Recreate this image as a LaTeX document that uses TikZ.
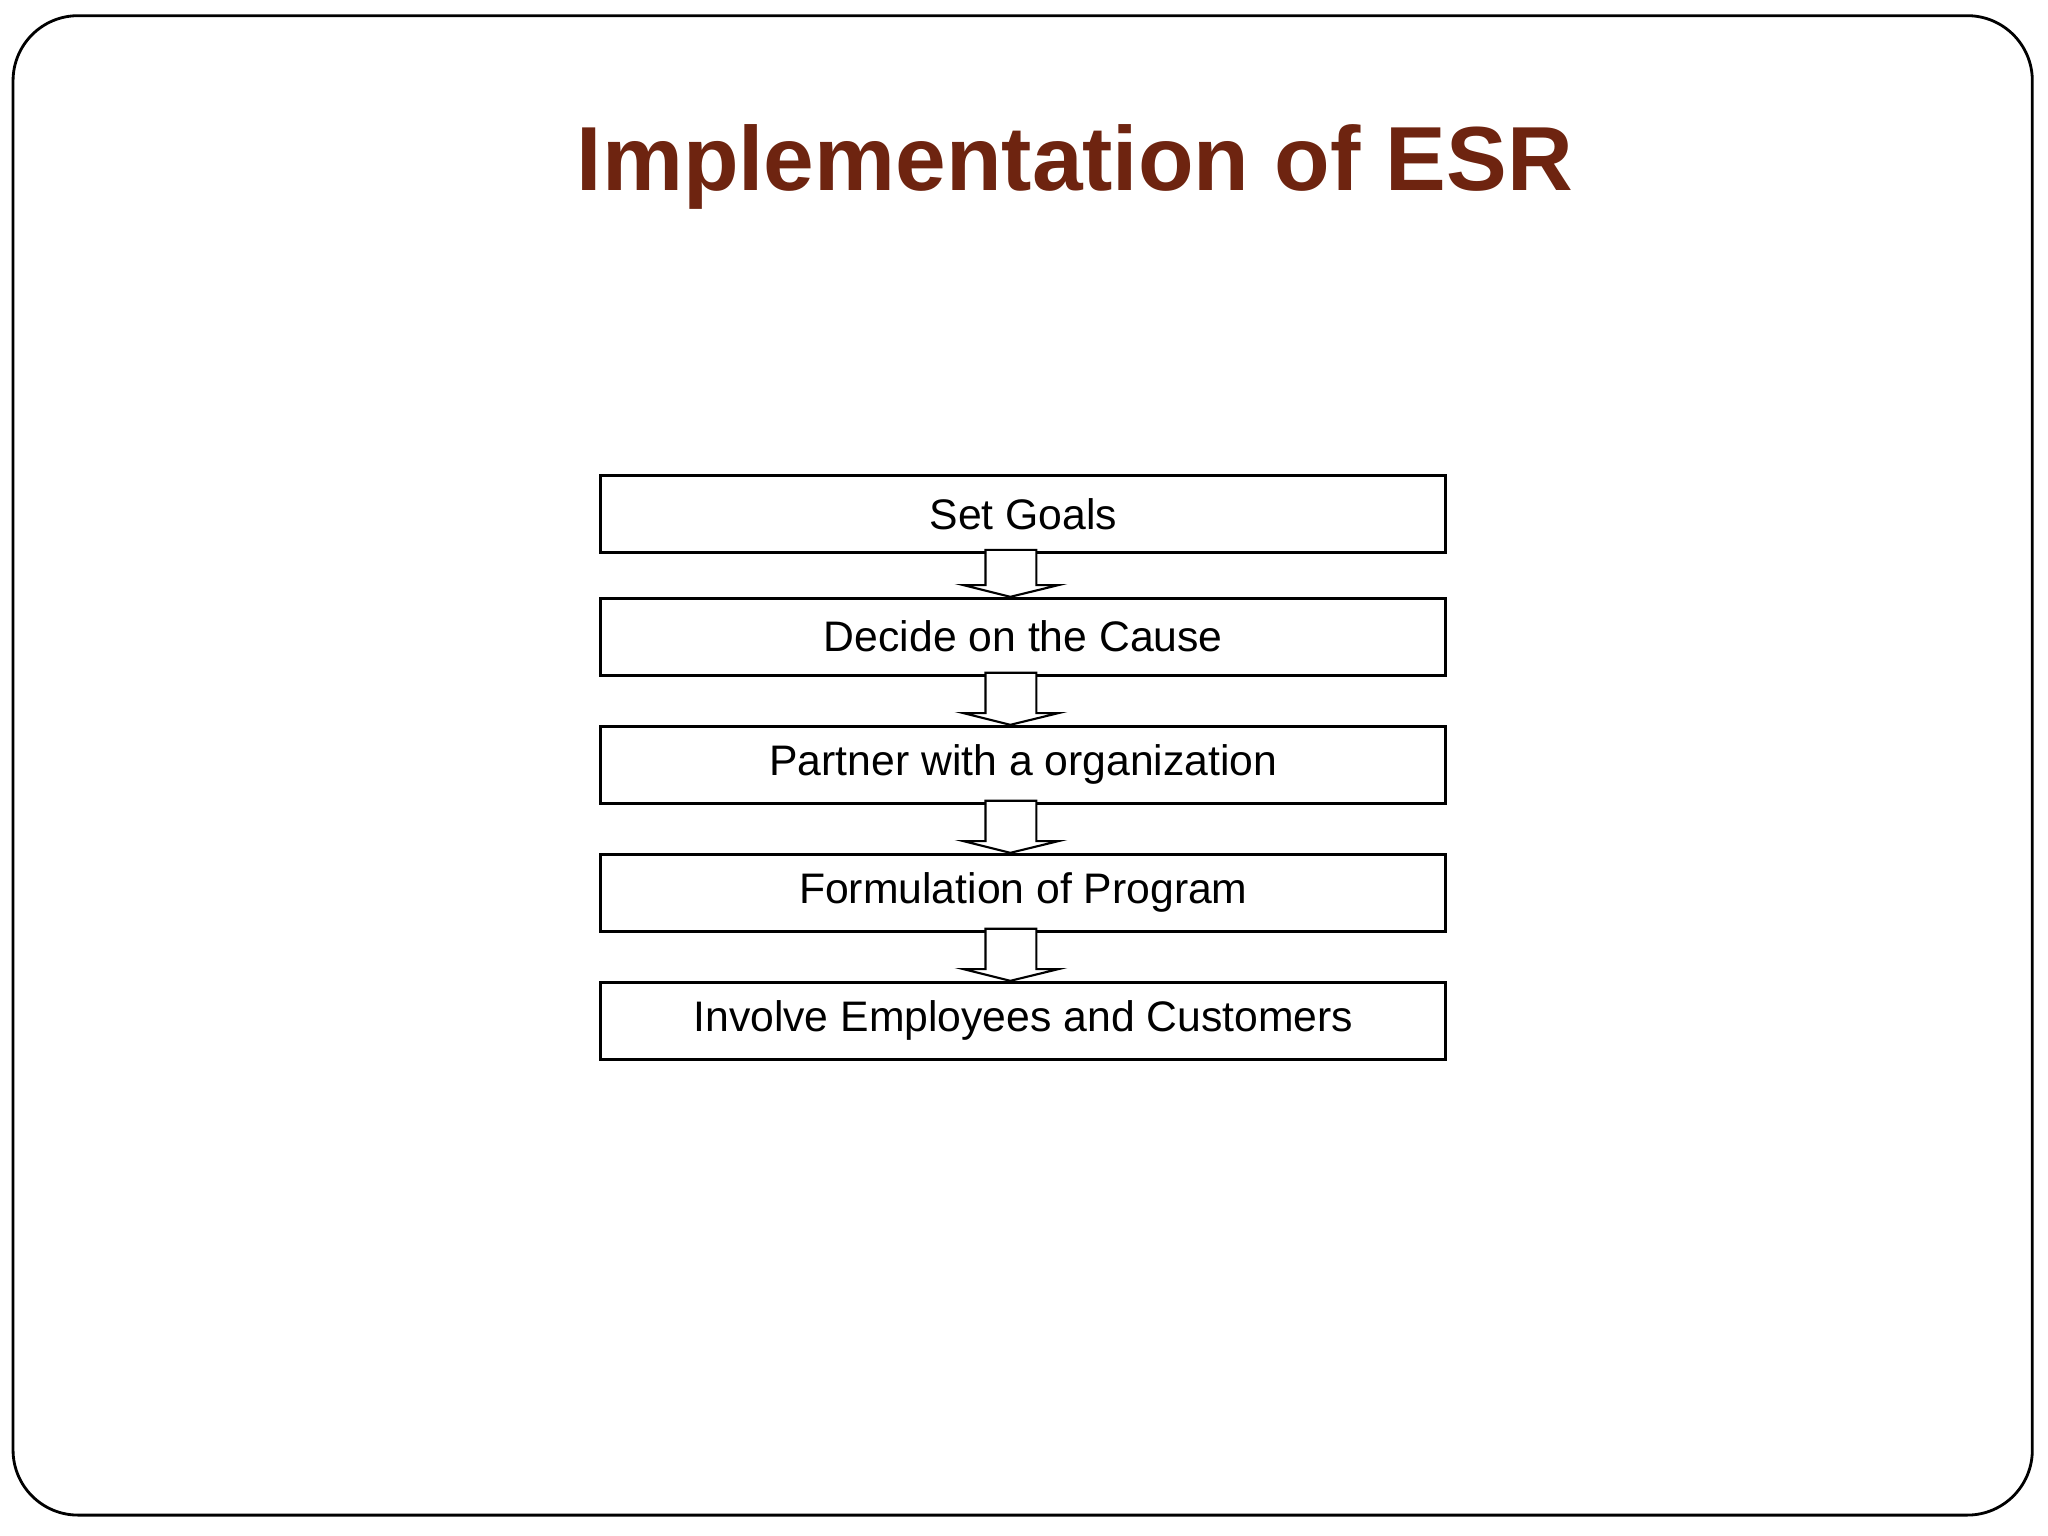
\documentclass[tikz,border=0pt]{standalone}
\usepackage{fontspec}
\setmainfont{Liberation Sans}
\usetikzlibrary{calc}
\definecolor{titlered}{RGB}{110,36,16}
\tikzset{
  stepbox/.style={draw=black, thick, minimum width=8.45cm, minimum height=0.77cm,
                  inner sep=0pt, font=\fontsize{12.15}{14}\selectfont},
  blk/.style={draw=black, fill=white, line width=0.6pt}
}
\newcommand{\blockarrow}[2]{%
  \draw[blk] ($(#1.south)+(-29,-3)$) -- ($(#2.north)+(-29,-9)$) -- ($(#2.north)+(-46,-9)$)
    -- ($(#2.north)+(-10,0)$) -- ($(#2.north)+(27,-9)$) -- ($(#2.north)+(10,-9)$)
    -- ($(#1.south)+(10,-3)$) -- cycle;}
\begin{document}
\begin{tikzpicture}[x=0.01306cm,y=-0.01306cm]
\useasboundingbox (0,0) rectangle (1568,1176);
\draw[thick, rounded corners=0.65cm] (10,12) rectangle (1556,1160);
\node[text=titlered, font=\bfseries\fontsize{25.9}{30}\selectfont] (title) at (823,128) {Implementation of ESR};

\node[stepbox] (goals) at (783.5,393.5) {Set Goals};
\node[stepbox] (cause) at (783.5,487.5) {Decide on the Cause};
\node[stepbox] (partner) at (783.5,585.5) {Partner with a organization};
\node[stepbox] (program) at (783.5,683.5) {Formulation of Program};
\node[stepbox] (involve) at (783.5,781.5) {Involve Employees and Customers};

\blockarrow{goals}{cause}
\blockarrow{cause}{partner}
\blockarrow{partner}{program}
\blockarrow{program}{involve}
\end{tikzpicture}
\end{document}
